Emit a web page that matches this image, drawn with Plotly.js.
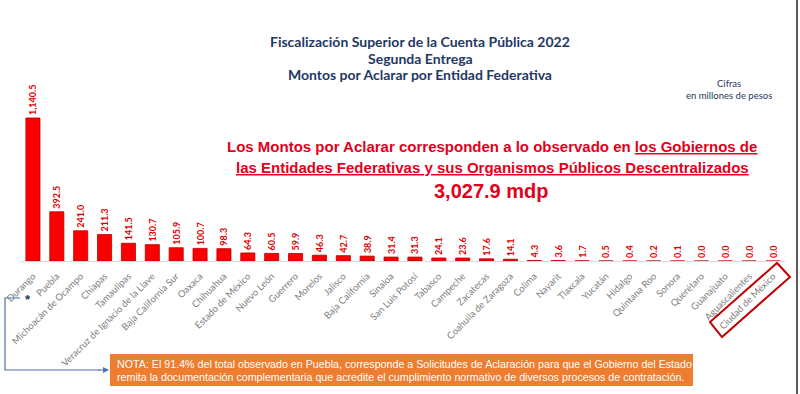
<!DOCTYPE html>
<html>
<head>
<meta charset="utf-8">
<script src="https://cdn.plot.ly/plotly-3.0.1.min.js"></script>
<style>html,body{margin:0;padding:0;background:#fff;}#chart{width:800px;height:394px;}</style>
</head>
<body>
<div id="chart"></div>
<script>
const states = ["Durango","Puebla","Michoacán de Ocampo","Chiapas","Tamaulipas","Veracruz de Ignacio de la Llave","Baja California Sur","Oaxaca","Chihuahua","Estado de México","Nuevo León","Guerrero","Morelos","Jalisco","Baja California","Sinaloa","San Luis Potosí","Tabasco","Campeche","Zacatecas","Coahuila de Zaragoza","Colima","Nayarit","Tlaxcala","Yucatán","Hidalgo","Quintana Roo","Sonora","Querétaro","Guanajuato","Aguascalientes","Ciudad de México"];
const montos = [1140.5,392.5,241.0,211.3,141.5,130.7,105.9,100.7,98.3,64.3,60.5,59.9,46.3,42.7,38.9,31.4,31.3,24.1,23.6,17.6,14.1,4.3,3.6,1.7,0.5,0.4,0.2,0.1,0.0,0.0,0.0,0.0];
const titleLines = ["Fiscalización Superior de la Cuenta Pública 2022","Segunda Entrega","Montos por Aclarar por Entidad Federativa"];
const unitsLines = ["Cifras","en millones de pesos"];
const highlight1 = "Los Montos por Aclarar corresponden a lo observado en <u>los Gobiernos de</u>";
const highlight2 = "<u>las Entidades Federativas y sus Organismos Públicos Descentralizados</u>";
const totalText = "3,027.9 mdp";
const noteLines = ["NOTA: El 91.4% del total observado en Puebla, corresponde a Solicitudes de Aclaración para que el Gobierno del Estado",
  "remita la documentación complementaria que acredite el cumplimiento normativo de diversos procesos de contratación."];

const W = 800, H = 394;
const px = x => x / W;
const py = y => 1 - y / H;

const navy = '#1f3864';
const red = '#e3001b';

const trace = {
  type: 'bar',
  x: states,
  y: montos,
  marker: {color: '#fa0000', line: {color: '#b80000', width: 0.8}},
  texttemplate: '%{y:,.1f}',
  textposition: 'outside',
  textangle: -90,
  constraintext: 'none',
  cliponaxis: false,
  textfont: {family: 'Lato, Liberation Sans, sans-serif', size: 9, color: '#e00000', weight: 'bold'},
  hoverinfo: 'none'
};

const annotations = [];
titleLines.forEach((t, i) => {
  annotations.push({xref:'paper', yref:'paper', x: px(420), y: py(41 + i*17), text: t, showarrow:false,
    xanchor:'center', yanchor:'middle', font:{family:'Lato, Open Sans, sans-serif', size:14, color:navy, weight:'bold'}});
});
unitsLines.forEach((t, i) => {
  annotations.push({xref:'paper', yref:'paper', x: px(729), y: py(84 + i*11), text: t, showarrow:false,
    xanchor:'center', yanchor:'middle', font:{family:'Lato, Open Sans, sans-serif', size:9.5, color:navy}});
});
annotations.push({xref:'paper', yref:'paper', x: px(492), y: py(146), text: highlight1, showarrow:false,
  xanchor:'center', yanchor:'middle', font:{family:'Liberation Sans, Arial, sans-serif', size:15, color:red, weight:'bold'}});
annotations.push({xref:'paper', yref:'paper', x: px(492), y: py(168), text: highlight2, showarrow:false,
  xanchor:'center', yanchor:'middle', font:{family:'Liberation Sans, Arial, sans-serif', size:15, color:red, weight:'bold'}});
annotations.push({xref:'paper', yref:'paper', x: px(491), y: py(191), text: totalText, showarrow:false,
  xanchor:'center', yanchor:'middle', font:{family:'Liberation Sans, Arial, sans-serif', size:20, color:red, weight:'bold'}});
noteLines.forEach((t, i) => {
  annotations.push({xref:'paper', yref:'paper', x: px(115), y: py(364 + i*13), text: t, showarrow:false,
    xanchor:'left', yanchor:'middle', align:'left', font:{family:'Liberation Sans, Arial, sans-serif', size:10.7, color:'#ffffff'}});
});
annotations.push({xref:'paper', yref:'paper', x: px(28), y: py(299), text: '*', showarrow:false,
  xanchor:'center', yanchor:'middle', font:{family:'Liberation Sans, Arial, sans-serif', size:13, color:navy, weight:'bold'}});
annotations.push({xref:'paper', yref:'paper', x: px(109), y: py(370), ax: -12, ay: 0, text:'', showarrow:true,
  arrowhead:2, arrowsize:1, arrowwidth:1.2, arrowcolor:'#4f71a8'});

const shapes = [
  {type:'rect', xref:'paper', yref:'paper', x0:px(110), x1:px(693), y0:py(386), y1:py(354),
   fillcolor:'#ed7d31', line:{width:0}, layer:'below'},
  {type:'path', xref:'paper', yref:'paper',
   path:`M ${px(20)},${py(298)} L ${px(5)},${py(298)} L ${px(5)},${py(370)} L ${px(100)},${py(370)}`,
   line:{color:'#4f71a8', width:1.2}},
  {type:'path', xref:'paper', yref:'paper',
   path:`M ${px(777)},${py(263)} L ${px(790)},${py(277)} L ${px(722)},${py(337)} L ${px(710)},${py(322)} Z`,
   line:{color:'#c00000', width:2}},
  {type:'line', xref:'paper', yref:'paper', x0:px(797), x1:px(797), y0:0, y1:1,
   line:{color:'#5a5a5a', width:2}}
];

const layout = {
  width: W, height: H,
  margin: {l:0, r:0, t:0, b:0},
  paper_bgcolor: '#ffffff', plot_bgcolor: '#ffffff',
  showlegend: false,
  bargap: 0.41,
  xaxis: {domain:[px(21), px(785)], type:'category', tickangle:-45, ticks:'', showline:true,
    linecolor:'#d9d9d9', linewidth:1, showgrid:false, ticklabelstandoff:5,
    tickfont:{family:'Lato, Open Sans, sans-serif', size:9.5, color:'#808080'}, fixedrange:true},
  yaxis: {domain:[1-261/H, 1-100/H], range:[0,1284], visible:false, showgrid:false, zeroline:false, fixedrange:true},
  annotations: annotations,
  shapes: shapes
};

Plotly.newPlot('chart', [trace], layout, {displayModeBar:false, staticPlot:true});
</script>
</body>
</html>
